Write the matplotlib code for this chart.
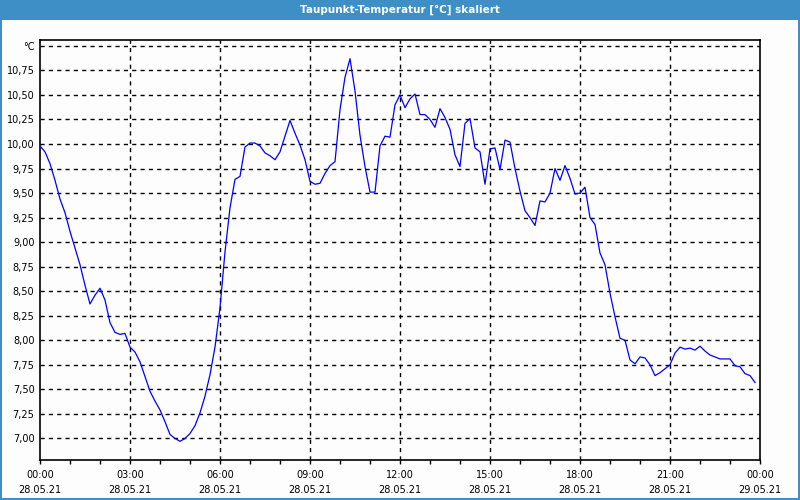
import matplotlib
matplotlib.use("Agg")
import matplotlib.pyplot as plt
from matplotlib.patches import Rectangle
import numpy as np

title = "Taupunkt-Temperatur [°C] skaliert"
# minutes after 28.05.21 00:00, 10-minute steps
minutes = list(range(0, 1440, 10))
values = [
    9.98, 9.92, 9.80, 9.63, 9.44, 9.30, 9.11, 8.94, 8.77, 8.56, 8.37, 8.46,
    8.53, 8.41, 8.18, 8.08, 8.06, 8.07, 7.93, 7.88, 7.78, 7.63, 7.48, 7.38,
    7.29, 7.17, 7.04, 7.00, 6.97, 7.00, 7.05, 7.13, 7.26, 7.43, 7.65, 7.93,
    8.33, 8.90, 9.35, 9.64, 9.67, 9.97, 10.01, 10.01, 9.98, 9.91, 9.88, 9.84,
    9.92, 10.08, 10.24, 10.11, 9.99, 9.84, 9.62, 9.59, 9.60, 9.70, 9.78, 9.82,
    10.35, 10.68, 10.87, 10.54, 10.09, 9.77, 9.51, 9.51, 9.98, 10.08, 10.07, 10.40,
    10.50, 10.37, 10.46, 10.51, 10.30, 10.30, 10.25, 10.17, 10.36, 10.27, 10.15, 9.89,
    9.77, 10.21, 10.26, 9.96, 9.92, 9.59, 9.95, 9.96, 9.74, 10.04, 10.02, 9.75,
    9.52, 9.32, 9.25, 9.17, 9.42, 9.41, 9.50, 9.75, 9.63, 9.78, 9.65, 9.49,
    9.50, 9.56, 9.25, 9.18, 8.89, 8.77, 8.48, 8.24, 8.02, 8.00, 7.80, 7.76,
    7.83, 7.82, 7.75, 7.64, 7.67, 7.71, 7.75, 7.87, 7.93, 7.91, 7.92, 7.90,
    7.94, 7.89, 7.85, 7.83, 7.81, 7.81, 7.81, 7.74, 7.73, 7.66, 7.64, 7.57,
]
x_tick_hours = [0, 3, 6, 9, 12, 15, 18, 21, 24]
x_tick_labels = ["00:00\n28.05.21", "03:00\n28.05.21", "06:00\n28.05.21",
                 "09:00\n28.05.21", "12:00\n28.05.21", "15:00\n28.05.21",
                 "18:00\n28.05.21", "21:00\n28.05.21", "00:00\n29.05.21"]
y_ticks = [7.00, 7.25, 7.50, 7.75, 8.00, 8.25, 8.50, 8.75, 9.00, 9.25,
           9.50, 9.75, 10.00, 10.25, 10.50, 10.75, 11.00]
y_tick_labels = ["7,00", "7,25", "7,50", "7,75", "8,00", "8,25", "8,50",
                 "8,75", "9,00", "9,25", "9,50", "9,75", "10,00", "10,25",
                 "10,50", "10,75", "°C"]

plt.rcParams['font.family'] = ['DejaVu Sans']
fig = plt.figure(figsize=(8, 5), dpi=100)
fig.patch.set_facecolor("#fcfdfc")

blue = "#3d8fc6"
# title bar and window frame
fig.add_artist(Rectangle((0, 0.96), 1, 0.04, transform=fig.transFigure,
                         facecolor=blue, edgecolor="none", zorder=0))
fig.add_artist(Rectangle((0, 0), 0.003, 1, transform=fig.transFigure,
                         facecolor=blue, edgecolor="none", zorder=0))
fig.add_artist(Rectangle((0.997, 0), 0.003, 1, transform=fig.transFigure,
                         facecolor=blue, edgecolor="none", zorder=0))
fig.add_artist(Rectangle((0, 0), 1, 0.005, transform=fig.transFigure,
                         facecolor=blue, edgecolor="none", zorder=0))
fig.text(0.5, 0.98, title, ha="center", va="center", color="white",
         fontsize=7.5, fontweight="bold")

ax = fig.add_axes([0.05, 0.08, 0.90, 0.84])
ax.set_facecolor("#fcfdfc")

hours = np.array(minutes) / 60.0
ax.plot(hours, values, color="#0000ff", linewidth=0.9, zorder=3)

ax.set_xlim(0, 24)
ax.set_ylim(6.78, 11.06)
ax.set_xticks(x_tick_hours)
ax.set_xticklabels(x_tick_labels, fontsize=7, linespacing=1.6)
ax.set_xticks(np.arange(0, 25, 1), minor=True)
ax.set_yticks(y_ticks)
ax.set_yticklabels(y_tick_labels, fontsize=7)

ax.tick_params(axis="x", which="both", direction="out", length=3, width=1,
               color="black", pad=4)
ax.tick_params(axis="y", which="both", length=0, pad=4)

for hv in x_tick_hours[1:-1]:
    ax.axvline(hv, color="black", linewidth=1, linestyle=(0, (3, 3)), zorder=1)
for yv in y_ticks:
    ax.axhline(yv, color="black", linewidth=1, linestyle=(0, (3, 3)), zorder=1)

for s in ax.spines.values():
    s.set_color("black")
    s.set_linewidth(1.2)

fig.savefig("out.png", dpi=100, facecolor=fig.get_facecolor())
